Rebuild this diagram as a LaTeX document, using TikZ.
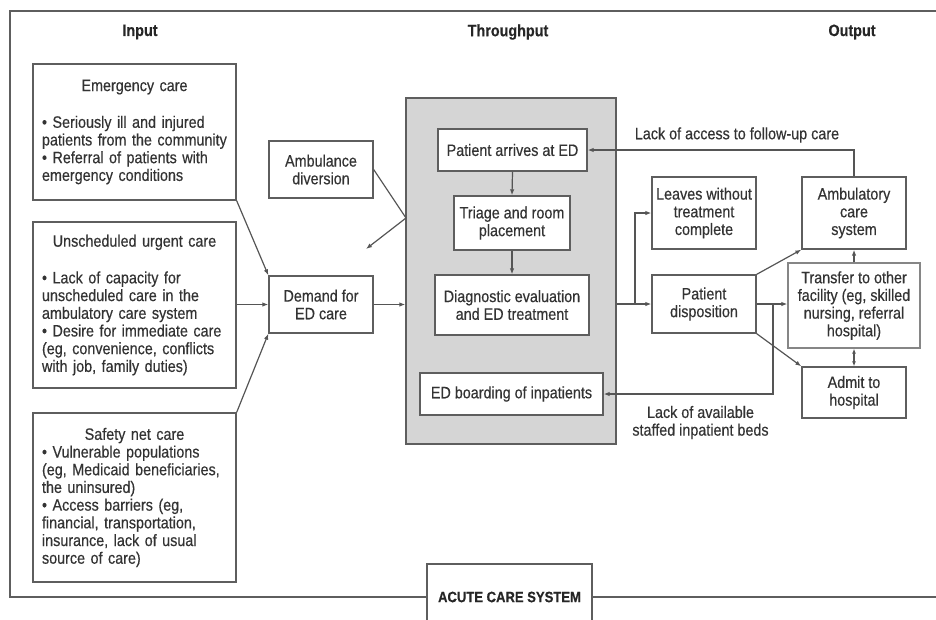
\documentclass[tikz,border=0pt]{standalone}
\usepackage{fontspec}
\setmainfont{Liberation Sans}[FakeStretch=0.87,FakeBold=0.4]
\usetikzlibrary{arrows.meta}
\definecolor{txt}{HTML}{333333}
\definecolor{edge}{HTML}{5E5E5E}
\definecolor{wire}{HTML}{555555}
\definecolor{panel}{HTML}{D5D5D5}
\begin{document}
\begin{tikzpicture}[x=1pt,y=-1pt,
  font=\fontsize{16.5}{17.7}\selectfont, text=txt,
  box/.style={draw=edge, line width=1.3pt, fill=white, inner sep=0pt, align=center},
  listbox/.style={box, align=left, inner xsep=9pt},
  heading/.style={font=\fontsize{16.5}{17.7}\selectfont\bfseries, text=black!85},
  wireline/.style={draw=wire, line width=1.2pt},
  arrow/.style={wireline, -{Latex[length=6pt,width=4.5pt]}},
  dblarrow/.style={wireline, {Latex[length=5pt,width=4pt]}-{Latex[length=5pt,width=4pt]}}]

\useasboundingbox (0,0) rectangle (936,619);
\clip (0,0) rectangle (936,619);

% outer frame of the acute care system (right side runs off the page)
\draw[draw=edge, line width=1.4pt] (960,11) -- (10,11) -- (10,597) -- (960,597);

% column headings
\node[heading] (hin)  at (140,32) {Input};
\node[heading] (hthr) at (508,32) {Throughput};
\node[heading] (hout) at (852,32) {Output};

% input boxes
\node[listbox, minimum width=203pt, minimum height=136pt, text width=185pt] (emer) at (134.5,132)
  {{\centering Emergency care\par}\vspace{19pt}%
   • Seriously ill and injured\\patients from the community\\• Referral of patients with\\emergency conditions};
\node[listbox, minimum width=203pt, minimum height=166pt, text width=185pt] (unsch) at (134.5,305)
  {{\centering Unscheduled urgent care\par}\vspace{19pt}%
   • Lack of capacity for\\unscheduled care in the\\ambulatory care system\\• Desire for immediate care\\(eg, convenience, conflicts\\with job, family duties)};
\node[listbox, minimum width=203pt, minimum height=169pt, text width=185pt] (safety) at (134.5,497.5)
  {{\centering Safety net care\par}%
   • Vulnerable populations\\(eg, Medicaid beneficiaries,\\the uninsured)\\• Access barriers (eg,\\financial, transportation,\\insurance, lack of usual\\source of care)};

\node[box, minimum width=104pt, minimum height=57pt] (ambdiv) at (321,169.5) {Ambulance\\diversion};
\node[box, minimum width=104pt, minimum height=57pt] (demand) at (321,304.5) {Demand for\\ED care};

% throughput panel
\node[draw=edge, line width=1.3pt, fill=panel, minimum width=210pt, minimum height=346pt, inner sep=0pt] (panelbox) at (511,271) {};
\node[box, minimum width=149pt, minimum height=42pt] (arrives) at (512.5,150) {Patient arrives at ED};
\node[box, minimum width=116pt, minimum height=54pt] (triage) at (512,223) {Triage and room\\placement};
\node[box, minimum width=154pt, minimum height=60pt] (diag) at (512,305) {Diagnostic evaluation\\and ED treatment};
\node[box, minimum width=183pt, minimum height=42pt] (board) at (511.5,394) {ED boarding of inpatients};

% output boxes
\node[box, minimum width=104pt, minimum height=72pt] (leaves) at (704,213) {Leaves without\\treatment\\complete};
\node[box, minimum width=104pt, minimum height=72pt] (ambul) at (854,213) {Ambulatory\\care\\system};
\node[box, minimum width=104pt, minimum height=58pt] (disp) at (704,304) {Patient\\disposition};
\node[box, draw=edge!75, minimum width=132pt, minimum height=85pt] (transfer) at (854,305.5) {Transfer to other\\facility (eg, skilled\\nursing, referral\\hospital)};
\node[box, minimum width=104pt, minimum height=51pt] (admit) at (854,392.5) {Admit to\\hospital};

% system label on the bottom edge
\node[box, minimum width=165pt, minimum height=66pt, font=\fontsize{15}{16}\selectfont\bfseries, text=black!85] (acute) at (509.5,597) {ACUTE CARE SYSTEM};

% connector labels
\node (lblfollow) at (737,135) {Lack of access to follow-up care};
\node[align=center] (lblbeds) at (700.5,422.5) {Lack of available\\staffed inpatient beds};

% helper points
\coordinate (divpt) at (406,218);
\coordinate (divend) at (366,249);
\coordinate (split1) at (635,304);
\coordinate (split2) at (773,304);

% input flows
\draw[arrow] (emer.south east) -- (demand.north west);
\draw[arrow] (unsch.east |- demand.west) -- (demand.west);
\draw[arrow] (safety.north east) -- (demand.south west);
\draw[arrow] (demand.east) -- (panelbox.west |- demand.east);
\draw[wireline] (ambdiv.east) -- (divpt);
\draw[arrow] (divpt) -- (divend);

% throughput flows
\draw[arrow] (arrives.south) -- (triage.north);
\draw[arrow] (triage.south) -- (diag.north);

% output flows
\draw[arrow] (panelbox.east |- disp.west) -- (disp.west);
\draw[arrow] (split1) |- (leaves.west);
\draw[arrow] (disp.east) -- (transfer.west |- disp.east);
\draw[arrow] (split2) |- (board.east);
\draw[arrow] (disp.north east) -- (ambul.south west);
\draw[arrow] (disp.south east) -- (admit.north west);
\draw[dblarrow] (transfer.south) -- (admit.north);
\draw[arrow] (transfer.north) -- (ambul.south);
\draw[arrow] (ambul.north) |- (arrives.east);

\end{tikzpicture}
\end{document}
